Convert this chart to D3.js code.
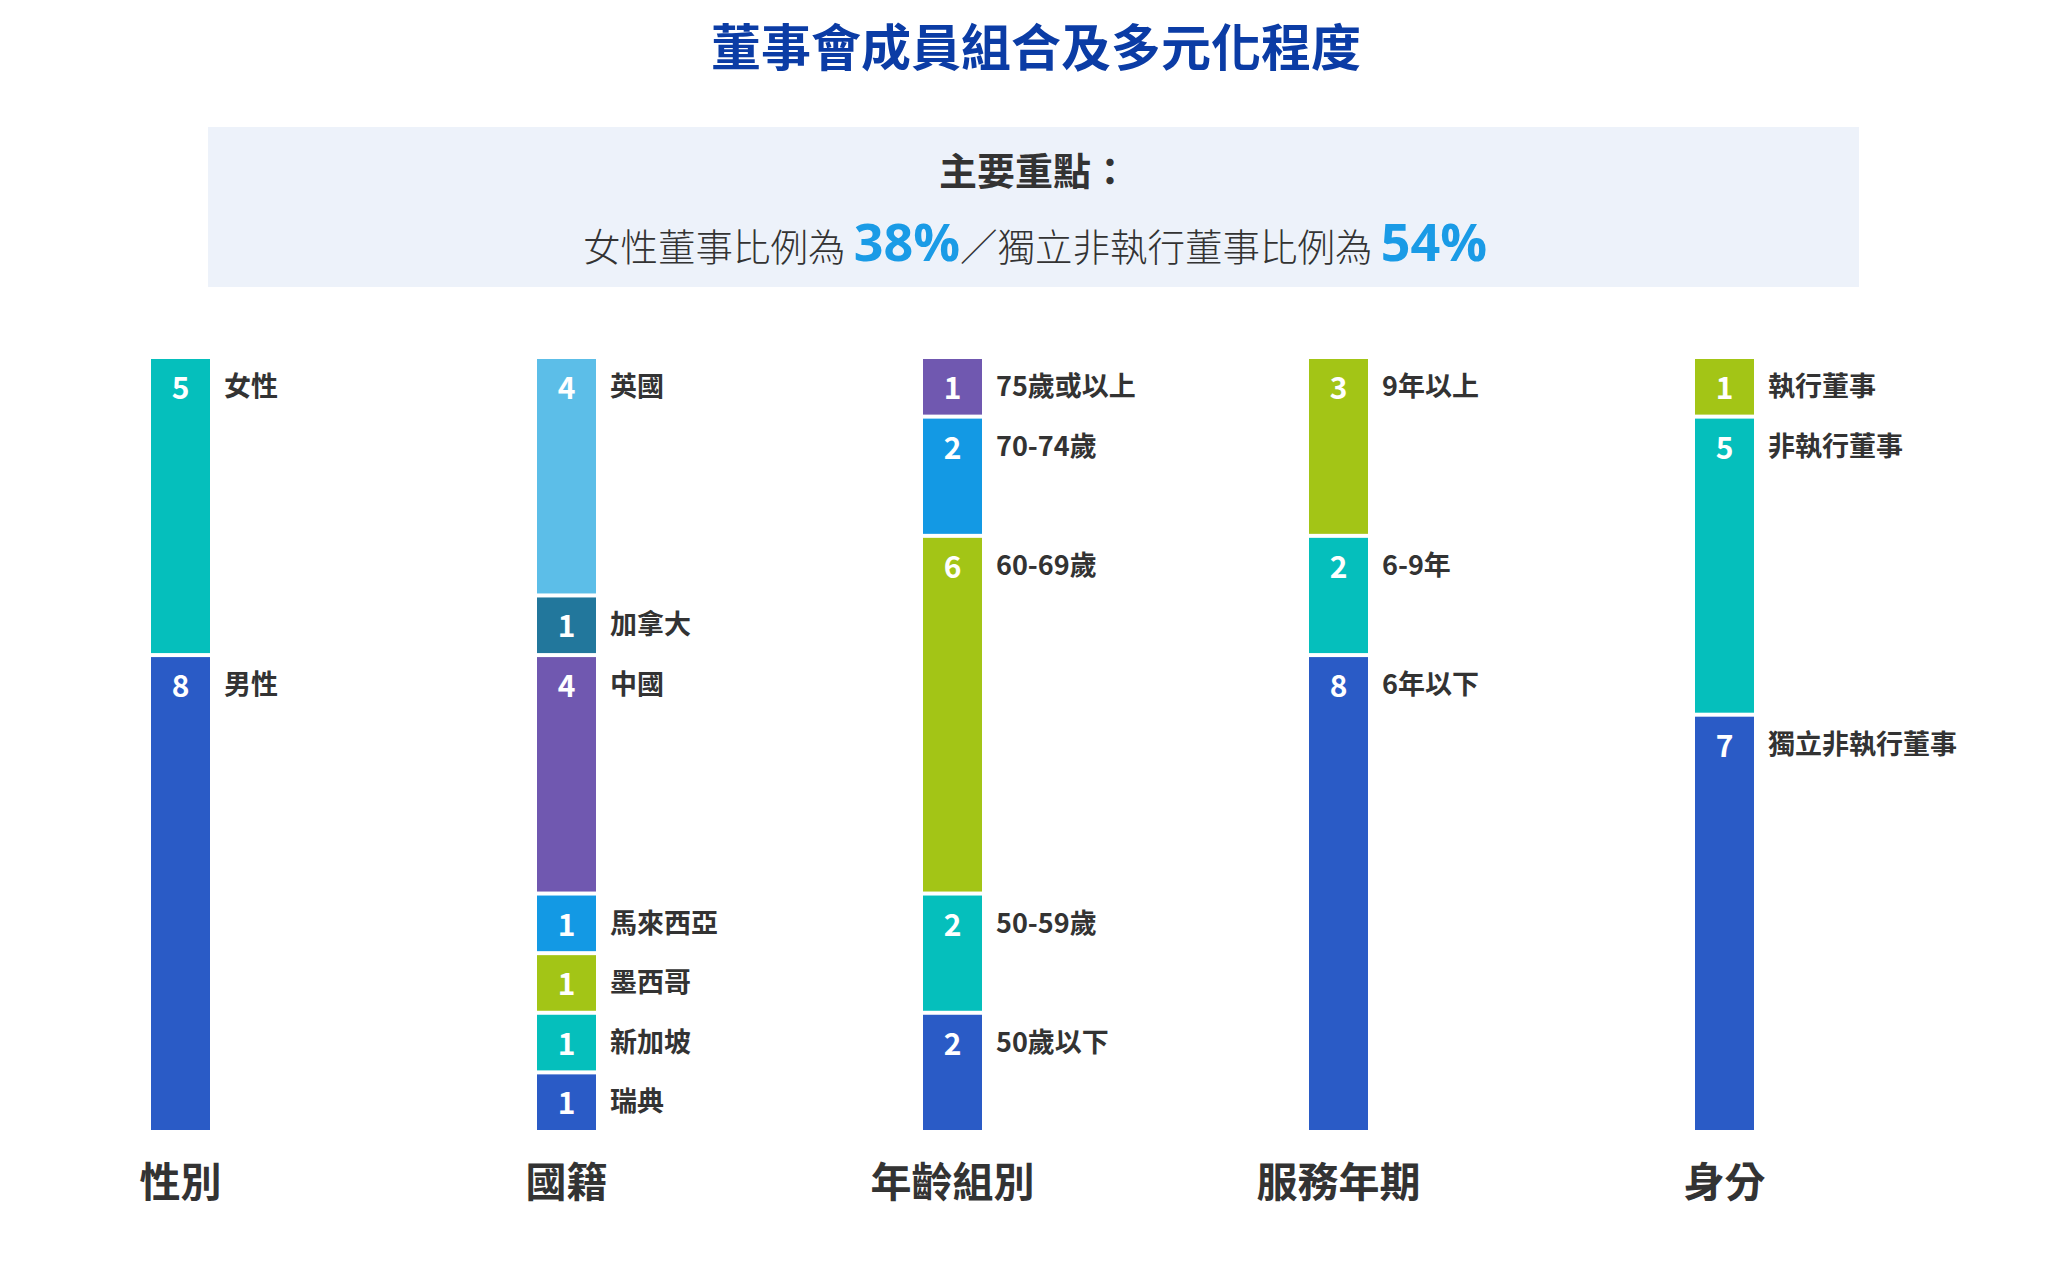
<!DOCTYPE html>
<html>
<head>
<meta charset="utf-8">
<script src="https://cdn.jsdelivr.net/npm/d3@7"></script>
<style>
  body { margin: 0; background: #fff; }
  text { font-family: "Noto Sans CJK TC", "Noto Sans", sans-serif; }
</style>
</head>
<body>
<div id="chart"></div>
<script>
// column titles
const groups = ["性別", "國籍", "年齡組別", "服務年期", "身分"];

// segments per column, listed top to bottom
const genderLabels = ["女性", "男性"];
const genderValues = [5, 8];

const nationLabels = ["英國", "加拿大", "中國", "馬來西亞", "墨西哥", "新加坡", "瑞典"];
const nationValues = [4, 1, 4, 1, 1, 1, 1];

const ageLabels = ["75歲或以上", "70-74歲", "60-69歲", "50-59歲", "50歲以下"];
const ageValues = [1, 2, 6, 2, 2];

const tenureLabels = ["9年以上", "6-9年", "6年以下"];
const tenureValues = [3, 2, 8];

const roleLabels = ["執行董事", "非執行董事", "獨立非執行董事"];
const roleValues = [1, 5, 7];

// colour key per segment
const genderColors = ["teal", "blue"];
const nationColors = ["sky", "navyteal", "purple", "azure", "green", "teal", "blue"];
const ageColors = ["purple", "azure", "green", "teal", "blue"];
const tenureColors = ["green", "teal", "blue"];
const roleColors = ["green", "teal", "blue"];

const palette = {
  teal: "#05bfbc", blue: "#2a5bc6", sky: "#5cbee8", navyteal: "#22779c",
  purple: "#7058b0", azure: "#1399e4", green: "#a3c516"
};

const femaleShare = "38%";
const indShare = "54%";

// build stacks
const stacks = [
  [genderLabels, genderValues, genderColors],
  [nationLabels, nationValues, nationColors],
  [ageLabels, ageValues, ageColors],
  [tenureLabels, tenureValues, tenureColors],
  [roleLabels, roleValues, roleColors]
].map(([labels, values, colors], gi) => {
  let cum = 0;
  return labels.map((l, i) => {
    const s = { group: groups[gi], label: l, value: values[i], color: palette[colors[i]], y0: cum };
    cum += values[i];
    s.y1 = cum;
    return s;
  });
});

const W = 2067, H = 1276;
const svg = d3.select("#chart").append("svg")
  .attr("width", W)
  .attr("height", H);

// title
svg.append("text")
  .attr("x", 1036)
  .attr("y", 66)
  .attr("text-anchor", "middle")
  .attr("font-size", "50px")
  .attr("font-weight", 700)
  .attr("fill", "#0b3ca5")
  .text("董事會成員組合及多元化程度");

// highlight box
svg.append("rect")
  .attr("x", 208).attr("y", 127)
  .attr("width", 1651).attr("height", 160)
  .attr("fill", "#edf2fa");

svg.append("text")
  .attr("x", 1034)
  .attr("y", 185)
  .attr("text-anchor", "middle")
  .attr("font-size", "38px")
  .attr("font-weight", 700)
  .attr("fill", "#333")
  .text("主要重點：");

const line = svg.append("text")
  .attr("x", 1035)
  .attr("y", 261)
  .attr("text-anchor", "middle")
  .attr("font-size", "37.5px")
  .attr("font-weight", 300)
  .attr("fill", "#333");
line.append("tspan").text("女性董事比例為 ");
line.append("tspan").attr("font-family", "'Open Sans', sans-serif").attr("font-size", "52px")
  .attr("font-weight", 700).attr("fill", "#1a9be6").text(femaleShare);
line.append("tspan").text("／獨立非執行董事比例為 ");
line.append("tspan").attr("font-family", "'Open Sans', sans-serif").attr("font-size", "52px")
  .attr("font-weight", 700).attr("fill", "#1a9be6").text(indShare);

// scales
const x = d3.scaleBand()
  .domain(groups)
  .range([151, 1754])
  .paddingInner((386 - 59) / 386)
  .paddingOuter(0);
const y = d3.scaleLinear()
  .domain([0, 13])
  .range([359, 1134]);
const gap = 4;

const cols = svg.selectAll("g.col")
  .data(stacks)
  .enter().append("g")
  .attr("class", "col")
  .attr("transform", d => `translate(${x(d[0].group)},0)`);

const bw = x.bandwidth();

const seg = cols.selectAll("g.seg")
  .data(d => d)
  .enter().append("g")
  .attr("class", "seg");

seg.append("rect")
  .attr("x", 0)
  .attr("y", d => y(d.y0))
  .attr("width", bw)
  .attr("height", d => y(d.y1) - y(d.y0) - gap)
  .attr("fill", d => d.color);

seg.append("text")
  .attr("x", bw / 2)
  .attr("y", d => y(d.y0) + 40)
  .attr("text-anchor", "middle")
  .attr("font-family", "'Open Sans', sans-serif")
  .attr("font-size", "30px")
  .attr("font-weight", 700)
  .attr("fill", "#fff")
  .text(d => d.value);

seg.append("text")
  .attr("x", bw + 14)
  .attr("y", d => y(d.y0) + 37)
  .attr("font-size", "27px")
  .attr("font-weight", 700)
  .attr("fill", "#333")
  .text(d => d.label);

// column labels
svg.selectAll("text.grp")
  .data(groups)
  .enter().append("text")
  .attr("class", "grp")
  .attr("x", d => x(d) + bw / 2)
  .attr("y", 1197)
  .attr("text-anchor", "middle")
  .attr("font-size", "41px")
  .attr("font-weight", 700)
  .attr("fill", "#333")
  .text(d => d);
</script>
</body>
</html>
